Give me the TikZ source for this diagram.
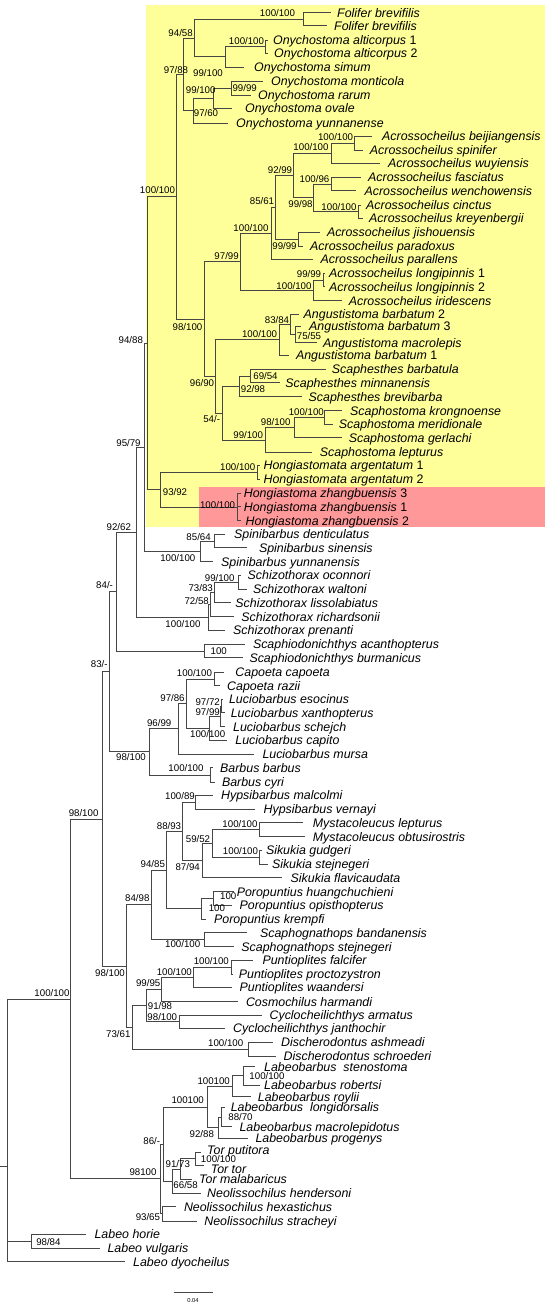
\documentclass[tikz,border=0pt]{standalone}
\usepackage{fontspec}
\newfontfamily\arialf{Liberation Sans}
\definecolor{hlyellow}{RGB}{255,255,153}
\definecolor{hlred}{RGB}{255,153,153}
\definecolor{branchc}{RGB}{70,70,70}
\tikzset{
 tiptext/.style={anchor=base west, inner sep=0pt, font=\arialf\fontsize{12.4}{14}\selectfont\itshape, yshift=-4.5pt},
 bslabel/.style={inner sep=0pt, font=\arialf\fontsize{9.7}{11}\selectfont},
 br/.style={draw=branchc, line width=0.9pt},
}
\newcommand\tipnode[5]{\coordinate (#1) at (#2,#3); \node[tiptext] (#1l) at (#4,#3) {#5};}
\newcommand\tipnodeb[6]{\coordinate (#1) at (#2,#3); \node[tiptext] (#1l) at (#4,#5) {#6};}
\newcommand\clade[4]{\coordinate (#1) at (#2,#3); \foreach \c in {#4} {\draw[br] (#1) |- (\c);}}
\newcommand\lab[4]{\node[bslabel] (#1) at (#2,#3) {#4};}
\begin{document}
\begin{tikzpicture}[x=1pt,y=-1pt]
\useasboundingbox (0,0) rectangle (550,1307);
\fill[hlyellow] (146,5) rectangle (545,527);
\fill[hlred] (199,486.7) rectangle (545,527);
% tips
\tipnode{t1}{331}{12.5}{337}{Folifer brevifilis}
\tipnode{t2}{327}{25.7}{334}{Folifer brevifilis}
\tipnode{t3}{268}{40}{273}{Onychostoma alticorpus \textup{1}}
\tipnode{t4}{268}{53.3}{274}{Onychostoma alticorpus \textup{2}}
\tipnode{t5}{244}{67}{254}{Onychostoma simum}
\tipnode{t6}{263}{81}{271}{Onychostoma monticola}
\tipnode{t7}{251}{95}{258}{Onychostoma rarum}
\tipnode{t8}{232.4}{108.3}{245}{Onychostoma ovale}
\tipnode{t9}{228}{123.3}{236}{Onychostoma yunnanense}
\tipnode{t10}{371.5}{136}{382}{Acrossocheilus beijiangensis}
\tipnode{t11}{362.7}{150}{369.7}{Acrossocheilus spinifer}
\tipnode{t12}{380}{163.3}{388}{Acrossocheilus wuyiensis}
\tipnode{t13}{361}{177.3}{368}{Acrossocheilus fasciatus}
\tipnode{t14}{355.6}{190.7}{364.4}{Acrossocheilus wenchowensis}
\tipnode{t15}{361}{205}{366}{Acrossocheilus cinctus}
\tipnode{t16}{363}{218.3}{369}{Acrossocheilus kreyenbergii}
\tipnode{t17}{320}{232}{326.8}{Acrossocheilus jishouensis}
\tipnode{t18}{302.8}{246}{310}{Acrossocheilus paradoxus}
\tipnode{t19}{313.4}{259.3}{320.4}{Acrossocheilus parallens}
\tipnode{t20}{325}{273.3}{329}{Acrossocheilus longipinnis \textup{1}}
\tipnode{t21}{325}{286.7}{329}{Acrossocheilus longipinnis \textup{2}}
\tipnode{t22}{341.5}{300.7}{348.6}{Acrossocheilus iridescens}
\tipnode{t23}{299}{314.3}{303.5}{Angustistoma barbatum \textup{2}}
\tipnode{t24}{301}{326}{309}{Angustistoma barbatum \textup{3}}
\tipnode{t25}{316.9}{342.7}{322.9}{Angustistoma macrolepis}
\tipnode{t26}{288.7}{355}{295.8}{Angustistoma barbatum \textup{1}}
\tipnode{t27}{325.7}{369.3}{331.7}{Scaphesthes barbatula}
\tipnode{t28}{280}{382.7}{285.2}{Scaphesthes minnanensis}
\tipnode{t29}{302}{396.7}{308.5}{Scaphesthes brevibarba}
\tipnode{t30}{341.5}{410.7}{350}{Scaphostoma krongnoense}
\tipnode{t31}{332.7}{424.3}{338.7}{Scaphostoma meridionale}
\tipnode{t32}{341.5}{437.7}{348.6}{Scaphostoma gerlachi}
\tipnode{t33}{311.6}{452.3}{319.7}{Scaphostoma lepturus}
\tipnode{t34}{260}{465}{263.4}{Hongiastomata argentatum \textup{1}}
\tipnode{t35}{260}{479.3}{263.4}{Hongiastomata argentatum \textup{2}}
\tipnode{t36}{240.5}{493.3}{243.7}{Hongiastoma zhangbuensis \textup{3}}
\tipnode{t37}{240.5}{506.7}{243.7}{Hongiastoma zhangbuensis \textup{1}}
\tipnode{t38}{240.5}{520.7}{245.4}{Hongiastoma zhangbuensis \textup{2}}
\tipnode{t39}{225.4}{534.3}{234}{Spinibarbus denticulatus}
\tipnode{t40}{246.5}{547.7}{258.8}{Spinibarbus sinensis}
\tipnode{t41}{213}{561.7}{221}{Spinibarbus yunnanensis}
\tipnode{t42}{241}{575}{247.5}{Schizothorax oconnori}
\tipnode{t43}{246.5}{589.3}{252.8}{Schizothorax waltoni}
\tipnode{t44}{230.6}{602.7}{235.2}{Schizothorax lissolabiatus}
\tipnode{t45}{234}{616.7}{241.2}{Schizothorax richardsonii}
\tipnode{t46}{225.4}{630}{233}{Schizothorax prenanti}
\tipnode{t47}{244.7}{644.3}{252.8}{Scaphiodonichthys acanthopterus}
\tipnode{t48}{243}{657.7}{249.3}{Scaphiodonichthys burmanicus}
\tipnode{t49}{223.6}{672.3}{235.2}{Capoeta capoeta}
\tipnode{t50}{220}{685.7}{227}{Capoeta razii}
\tipnode{t51}{222.5}{699.3}{228.9}{Luciobarbus esocinus}
\tipnode{t52}{224.6}{712.7}{230.6}{Luciobarbus xanthopterus}
\tipnode{t53}{225.4}{726.7}{233}{Luciobarbus schejch}
\tipnode{t54}{227}{740}{235.2}{Luciobarbus capito}
\tipnode{t55}{253.5}{754}{262.3}{Luciobarbus mursa}
\tipnode{t56}{213}{767.7}{220}{Barbus barbus}
\tipnode{t57}{214.8}{782.3}{221.8}{Barbus cyri}
\tipnode{t58}{213}{795}{221}{Hypsibarbus malcolmi}
\tipnode{t59}{255.3}{809.3}{263.4}{Hypsibarbus vernayi}
\tipnode{t60}{302.8}{822.7}{312.7}{Mystacoleucus lepturus}
\tipnode{t61}{304.6}{836.7}{312.7}{Mystacoleucus obtusirostris}
\tipnode{t62}{262}{850}{265.8}{Sikukia gudgeri}
\tipnode{t63}{267.6}{864}{271.8}{Sikukia stejnegeri}
\tipnode{t64}{281.7}{877.7}{290.5}{Sikukia flavicaudata}
\tipnode{t65}{234}{891.7}{236.6}{Poropuntius huangchuchieni}
\tipnode{t66}{232.4}{905}{239.4}{Poropuntius opisthopterus}
\tipnode{t67}{206}{919}{214}{Poropuntius krempfi}
\tipnode{t68}{246.5}{932.7}{259.9}{Scaphognathops bandanensis}
\tipnode{t69}{234.2}{946.7}{241.2}{Scaphognathops stejnegeri}
\tipnode{t70}{252.8}{960}{262.3}{Puntioplites falcifer}
\tipnode{t71}{233}{974}{238.7}{Puntioplites proctozystron}
\tipnode{t72}{231.7}{987.3}{239.4}{Puntioplites waandersi}
\tipnode{t73}{237.7}{1001.7}{245.8}{Cosmochilus harmandi}
\tipnode{t74}{262.3}{1015}{269.4}{Cyclocheilichthys armatus}
\tipnode{t75}{225.4}{1028.3}{233}{Cyclocheilichthys janthochir}
\tipnode{t76}{272.9}{1042.3}{281}{Discherodontus ashmeadi}
\tipnode{t77}{276.4}{1056}{283.5}{Discherodontus schroederi}
\tipnode{t78}{255}{1066.7}{264}{Labeobarbus\ \ stenostoma}
\tipnode{t79}{260}{1085}{264}{Labeobarbus robertsi}
\tipnode{t80}{250.7}{1096.7}{257.7}{Labeobarbus roylii}
\tipnode{t81}{225.4}{1107.3}{230.6}{Labeobarbus\ \ longidorsalis}
\tipnode{t82}{232.4}{1126.7}{239.4}{Labeobarbus macrolepidotus}
\tipnode{t83}{248.2}{1138.3}{255.3}{Labeobarbus progenys}
\tipnodeb{t84}{200.7}{1152}{207}{1149.5}{Tor putitora}
\tipnodeb{t85}{204.2}{1165.5}{210.6}{1168.8}{Tor tor}
\tipnode{t86}{192}{1179.3}{199}{Tor malabaricus}
\tipnode{t87}{200.7}{1193.3}{207}{Neolissochilus hendersoni}
\tipnode{t88}{176}{1206.7}{183.8}{Neolissochilus hexastichus}
\tipnode{t89}{197.2}{1221}{204.2}{Neolissochilus stracheyi}
\tipnode{t90}{86.3}{1234.3}{94.4}{Labeo horie}
\tipnode{t91}{100.4}{1248.3}{107.4}{Labeo vulgaris}
\tipnode{t92}{125}{1261.7}{133}{Labeo dyocheilus}
% internal nodes
\clade{n1}{303.5}{19.1}{t1,t2}
\clade{n2}{265}{46.7}{t3,t4}
\clade{n3}{225}{56.8}{n2,t5}
\clade{n4}{194.4}{38}{n1,n3}
\clade{n5}{231}{88}{t6,t7}
\clade{n6}{213}{98.2}{n5,t8}
\clade{n7}{193}{110.8}{n6,t9}
\clade{n8}{183}{74.4}{n4,n7}
\clade{n9}{354}{143}{t10,t11}
\clade{n10}{331}{153.2}{n9,t12}
\clade{n11}{331}{184}{t13,t14}
\clade{n12}{358.5}{211.7}{t15,t16}
\clade{n13}{313}{197.8}{n11,n12}
\clade{n14}{293.7}{175.5}{n10,n13}
\clade{n15}{298}{239}{t17,t18}
\clade{n16}{275.4}{207.3}{n14,n15}
\clade{n17}{271}{233.3}{n16,t19}
\clade{n18}{323}{280}{t20,t21}
\clade{n19}{313.4}{290.3}{n18,t22}
\clade{n20}{240}{261.8}{n17,n19}
\clade{n21}{295.8}{334.3}{t24,t25}
\clade{n22}{290.5}{324.3}{t23,n21}
\clade{n23}{279}{339.7}{n22,t26}
\clade{n24}{250.7}{376}{t27,t28}
\clade{n25}{239.4}{386.3}{n24,t29}
\clade{n26}{324.6}{417.5}{t30,t31}
\clade{n27}{294}{427.6}{n26,t32}
\clade{n28}{265.8}{440}{n27,t33}
\clade{n29}{222.5}{413.2}{n25,n28}
\clade{n30}{215}{376.5}{n23,n29}
\clade{n31}{204}{319.2}{n20,n30}
\clade{n32}{176}{196.8}{n8,n31}
\clade{n33}{257}{472.2}{t34,t35}
\clade{n34}{237.7}{507}{t36,t37,t38}
\clade{n35}{160.6}{489.6}{n33,n34}
\clade{n36}{147.2}{343.2}{n32,n35}
\clade{n37}{214.8}{541}{t39,t40}
\clade{n38}{200.7}{551.3}{n37,t41}
\clade{n39}{144.4}{447.3}{n36,n38}
\clade{n40}{238.7}{582.2}{t42,t43}
\clade{n41}{214.8}{592.5}{n40,t44}
\clade{n42}{210.6}{604.6}{n41,t45}
\clade{n43}{208.5}{617.3}{n42,t46}
\clade{n44}{136.6}{532.3}{n39,n43}
\clade{n45}{204.2}{651}{t47,t48}
\clade{n46}{116.2}{591.7}{n44,n45}
\clade{n47}{214}{679}{t49,t50}
\clade{n48}{221.8}{706}{t51,t52}
\clade{n49}{220}{716.3}{n48,t53}
\clade{n50}{209.5}{728.2}{n49,t54}
\clade{n51}{186.6}{703.6}{n47,n50}
\clade{n52}{178.9}{728.8}{n51,t55}
\clade{n53}{210.6}{775}{t56,t57}
\clade{n54}{149.6}{751.9}{n52,n53}
\clade{n55}{109}{671.8}{n46,n54}
\clade{n56}{195.4}{802.2}{t58,t59}
\clade{n57}{259.9}{829.7}{t60,t61}
\clade{n58}{259.9}{857}{t62,t63}
\clade{n59}{212.7}{843.4}{n57,n58}
\clade{n60}{202.5}{860.5}{n59,t64}
\clade{n61}{182.7}{831.4}{n56,n60}
\clade{n62}{213.7}{898.3}{t65,t66}
\clade{n63}{201.8}{908.7}{n62,t67}
\clade{n64}{166.5}{870}{n61,n63}
\clade{n65}{204.2}{939.7}{t68,t69}
\clade{n66}{151.4}{904.9}{n64,n65}
\clade{n67}{231.3}{967}{t70,t71}
\clade{n68}{193}{977.2}{n67,t72}
\clade{n69}{161.3}{989.4}{n68,t73}
\clade{n70}{179.6}{1021.7}{t74,t75}
\clade{n71}{146}{1005.6}{n69,n70}
\clade{n72}{248.2}{1049.2}{t76,t77}
\clade{n73}{132.4}{1027.4}{n71,n72}
\clade{n74}{126}{966.2}{n66,n73}
\clade{n75}{102}{819}{n55,n74}
\clade{n76}{243}{1075.8}{t78,t79}
\clade{n77}{232.4}{1086.2}{n76,t80}
\clade{n78}{221.8}{1117}{t81,t82}
\clade{n79}{218.3}{1127.7}{n78,t83}
\clade{n80}{207}{1107}{n77,n79}
\clade{n81}{195.4}{1158.7}{t84,t85}
\clade{n82}{180.3}{1169}{n81,t86}
\clade{n83}{172.5}{1181.1}{n82,t87}
\clade{n84}{163}{1144}{n80,n83}
\clade{n85}{162.7}{1213.8}{t88,t89}
\clade{n86}{160.2}{1178.9}{n84,n85}
\clade{n87}{70.4}{999}{n75,n86}
\clade{n88}{31}{1241.3}{t90,t91}
\clade{root}{7.7}{1166}{n87,n88,t92}
\coordinate (stub) at (0,1166);
\draw[br] (stub) -- (root);
% support labels
\lab{l1}{277.5}{13.3}{100/100}
\lab{l2}{246.5}{41}{100/100}
\lab{l3}{208}{72.7}{99/100}
\lab{l4}{180.6}{33.3}{94/58}
\lab{l5}{244.7}{88}{99/99}
\lab{l6}{200.7}{90}{99/100}
\lab{l7}{206}{113}{97/60}
\lab{l8}{176}{70}{97/88}
\lab{l9}{335.6}{136.7}{100/100}
\lab{l10}{311}{146.7}{100/100}
\lab{l11}{314.5}{179}{100/96}
\lab{l12}{339}{206.7}{100/100}
\lab{l13}{300.5}{204.3}{99/98}
\lab{l14}{280}{170}{92/99}
\lab{l15}{284.5}{245.7}{99/99}
\lab{l16}{262}{200.7}{85/61}
\lab{l17}{251}{228.3}{100/100}
\lab{l18}{309}{274.3}{99/99}
\lab{l19}{294}{285.7}{100/100}
\lab{l20}{226.6}{256}{97/99}
\lab{l21}{309}{336}{75/55}
\lab{l22}{277}{320}{83/84}
\lab{l23}{259.6}{334}{100/100}
\lab{l24}{265.5}{376}{69/54}
\lab{l25}{253}{389.3}{92/98}
\lab{l26}{306.3}{411.7}{100/100}
\lab{l27}{275.7}{421.7}{98/100}
\lab{l28}{248.2}{435}{99/100}
\lab{l29}{211.7}{419.3}{54/-}
\lab{l30}{202}{383.3}{96/90}
\lab{l31}{187.5}{326.7}{98/100}
\lab{l32}{157.5}{190}{100/100}
\lab{l33}{237.7}{466.7}{100/100}
\lab{l34}{217.6}{505}{100/100}
\lab{l35}{175}{491.7}{93/92}
\lab{l36}{130.8}{340}{94/88}
\lab{l37}{198.6}{536.7}{85/64}
\lab{l38}{177.8}{558.3}{100/100}
\lab{l39}{128.5}{442.7}{95/79}
\lab{l40}{219.7}{577.7}{99/100}
\lab{l41}{200.7}{587.7}{73/83}
\lab{l42}{196.7}{601}{72/58}
\lab{l43}{183}{624}{100/100}
\lab{l44}{118.8}{527.3}{92/62}
\lab{l45}{218.7}{650.7}{100}
\lab{l46}{104.6}{585}{84/-}
\lab{l47}{194.4}{673.3}{100/100}
\lab{l48}{207.7}{701.7}{97/72}
\lab{l49}{207.7}{711.7}{97/99}
\lab{l50}{207.7}{734}{100/100}
\lab{l51}{172.5}{697.7}{97/86}
\lab{l52}{159.2}{723.3}{96/99}
\lab{l53}{186}{768.3}{100/100}
\lab{l54}{131}{757}{98/100}
\lab{l55}{99.3}{664}{83/-}
\lab{l56}{180}{796}{100/89}
\lab{l57}{240}{824}{100/100}
\lab{l58}{240.5}{851}{100/100}
\lab{l59}{198}{839.3}{59/52}
\lab{l60}{187.7}{866.7}{87/94}
\lab{l61}{169}{826}{88/93}
\lab{l62}{228.2}{896}{100}
\lab{l63}{216.9}{908.3}{100}
\lab{l64}{152.8}{864.3}{94/85}
\lab{l65}{182.7}{944.3}{100/100}
\lab{l66}{137.3}{898.3}{84/98}
\lab{l67}{211.3}{961}{100/100}
\lab{l68}{174.3}{971.7}{100/100}
\lab{l69}{148.2}{983.3}{99/95}
\lab{l70}{162.3}{1016.7}{98/100}
\lab{l71}{160}{1006}{91/98}
\lab{l72}{225.7}{1043.3}{100/100}
\lab{l73}{118.3}{1034}{73/61}
\lab{l74}{110}{972.7}{98/100}
\lab{l75}{83.6}{812.7}{98/100}
\lab{l76}{267}{1076}{100/100}
\lab{l77}{213.7}{1080.7}{100100}
\lab{l78}{240.5}{1117.3}{88/70}
\lab{l79}{201.8}{1134.3}{92/88}
\lab{l80}{187.7}{1100}{100100}
\lab{l81}{218.5}{1159}{100/100}
\lab{l82}{177.8}{1164.3}{91/73}
\lab{l83}{185.6}{1185}{66/58}
\lab{l84}{151.8}{1140.7}{86/-}
\lab{l85}{147.9}{1216.7}{93/65}
\lab{l86}{143}{1171.7}{98100}
\lab{l87}{52}{992.7}{100/100}
\lab{l88}{48.4}{1242.3}{98/84}
% scale bar
\coordinate (sb1) at (173.6,1292.7);
\coordinate (sb2) at (213,1292.7);
\draw[br] (sb1) -- (sb2);
\node[inner sep=0pt, font=\arialf\fontsize{5.8}{7}\selectfont] (sbl) at (193,1300.7) {0.04};
\end{tikzpicture}
\end{document}
